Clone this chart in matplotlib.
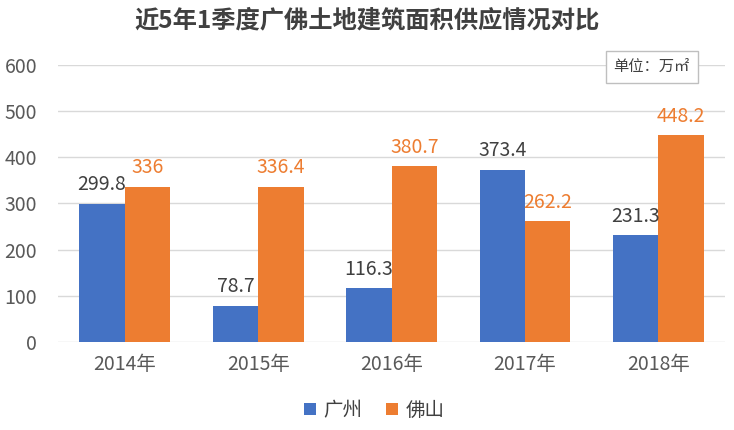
import matplotlib
matplotlib.use("Agg")
import matplotlib.pyplot as plt
import numpy as np

plt.rcParams['font.family'] = ['Noto Sans CJK SC', 'DejaVu Sans']

categories = ['2014年', '2015年', '2016年', '2017年', '2018年']
guangzhou = [299.8, 78.7, 116.3, 373.4, 231.3]
foshan = [336, 336.4, 380.7, 262.2, 448.2]
gz_labels = ['299.8', '78.7', '116.3', '373.4', '231.3']
fs_labels = ['336', '336.4', '380.7', '262.2', '448.2']
yticks = [0, 100, 200, 300, 400, 500, 600]

blue = '#4472C4'
orange = '#ED7D31'

fig = plt.figure(figsize=(7.34, 4.30), dpi=100)
ax = fig.add_axes([0.079, 0.2047, 0.909, 0.6443])

x = np.arange(len(categories))
w = 0.34
b1 = ax.bar(x - w/2, guangzhou, w, color=blue, label='广州', zorder=3)
b2 = ax.bar(x + w/2, foshan, w, color=orange, label='佛山', zorder=3)

for xi, v, lab in zip(x, guangzhou, gz_labels):
    ax.annotate(lab, (xi - w/2, v), xytext=(0, 6), textcoords='offset points',
                ha='center', va='bottom', fontsize=14, color='#404040')
for xi, v, lab in zip(x, foshan, fs_labels):
    ax.annotate(lab, (xi + w/2, v), xytext=(0, 6), textcoords='offset points',
                ha='center', va='bottom', fontsize=14, color=orange)

ax.set_xlim(-0.5, len(categories) - 0.5)
ax.set_ylim(0, 600)
ax.set_yticks(yticks)
ax.set_yticklabels([str(t) for t in yticks], fontsize=14, color='#595959')
ax.set_xticks(x)
ax.set_xticklabels(categories, fontsize=14, color='#595959')
ax.tick_params(axis='both', length=0)
ax.tick_params(axis='y', pad=15)
ax.tick_params(axis='x', pad=9)
ax.grid(axis='y', color='#D9D9D9', linewidth=1, zorder=0)
for s in ax.spines.values():
    s.set_visible(False)

fig.text(0.5, 0.953, '近5年1季度广佛土地建筑面积供应情况对比', ha='center', va='center',
         fontsize=17.5, fontweight='bold', color='#404040')

fig.text(0.888, 0.845, '单位：万㎡', ha='center', va='center', fontsize=11, color='#404040',
         bbox=dict(boxstyle='square,pad=0.5', facecolor='white', edgecolor='#BFBFBF', linewidth=1))

leg = fig.legend(handles=[b1, b2], labels=['广州', '佛山'], loc='center', bbox_to_anchor=(0.51, 0.045),
                 ncol=2, frameon=False, fontsize=14, handlelength=0.6, handleheight=0.6,
                 handletextpad=0.4, columnspacing=1.2)
for t in leg.get_texts():
    t.set_color('#404040')

fig.savefig('out.png', dpi=100, facecolor='white')
